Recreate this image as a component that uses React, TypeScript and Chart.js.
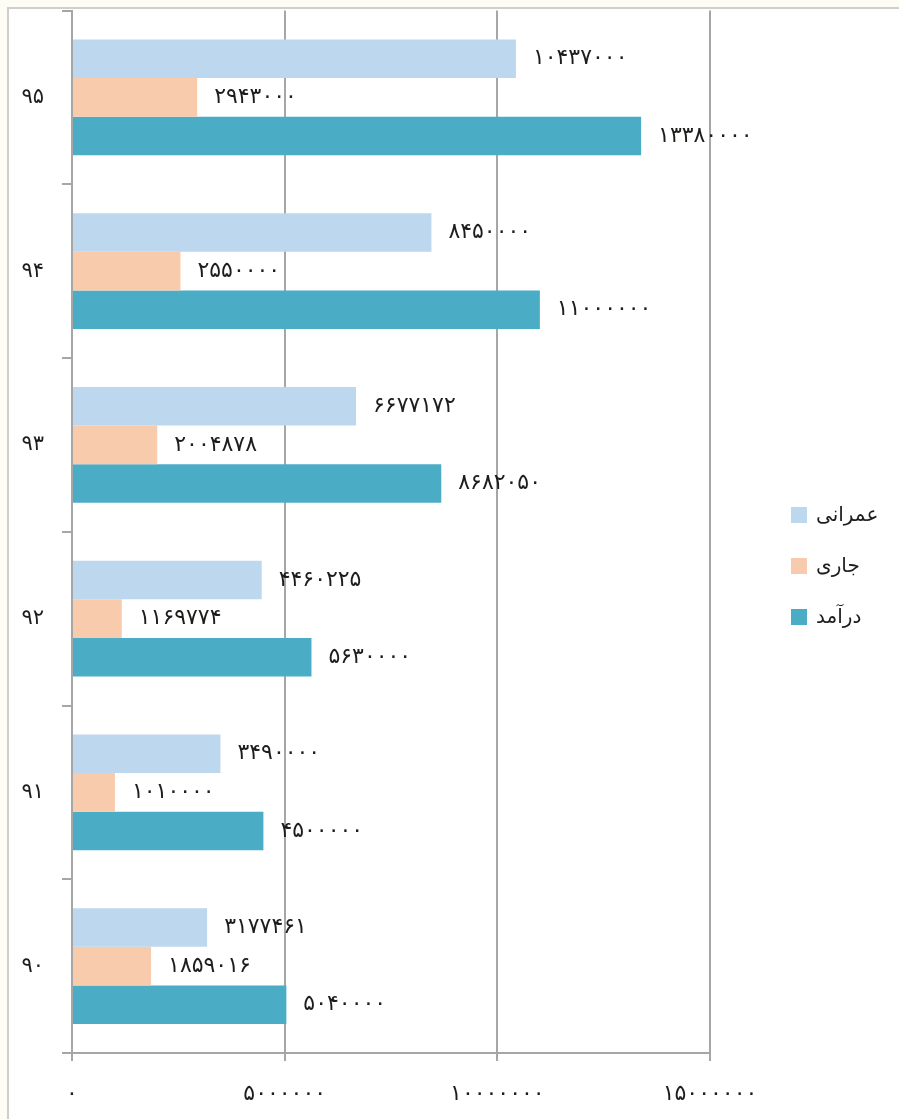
import React, { useEffect, useRef } from "react";
import { Chart, registerables } from "chart.js";

Chart.register(...registerables);

const categories = ["۹۵", "۹۴", "۹۳", "۹۲", "۹۱", "۹۰"];
const omraniValues = [10437000, 8450000, 6677172, 4460225, 3490000, 3177461];
const jariValues = [2943000, 2550000, 2004878, 1169774, 1010000, 1859016];
const daramadValues = [13380000, 11000000, 8682050, 5630000, 4500000, 5040000];
const seriesNames = ["عمرانی", "جاری", "درآمد"];
const seriesColors = ["#BDD7EE", "#F8CBAD", "#4BACC6"];
const xTickValues = [0, 5000000, 10000000, 15000000];

const PERSIAN = "۰۱۲۳۴۵۶۷۸۹";
const toPersian = (n: number | string) =>
  String(n).replace(/\d/g, (d) => PERSIAN[+d]);

const FONT = "'DejaVu Sans', 'Noto Sans', sans-serif";
const TEXT = "#1d1d1b";
const GRID = "#a6a6a6";

const labelsPlugin = {
  id: "valueLabels",
  afterDatasetsDraw(chart: any) {
    const ctx = chart.ctx;
    ctx.save();
    ctx.font = `22px ${FONT}`;
    ctx.fillStyle = TEXT;
    ctx.textAlign = "left";
    ctx.textBaseline = "middle";
    chart.data.datasets.forEach((ds: any, di: number) => {
      const meta = chart.getDatasetMeta(di);
      meta.data.forEach((el: any, i: number) => {
        ctx.fillText(toPersian(ds.data[i]), el.x + 17, el.y);
      });
    });
    ctx.restore();
  },
};

const legendPlugin = {
  id: "sideLegend",
  afterDraw(chart: any) {
    const ctx = chart.ctx;
    const area = chart.chartArea;
    const x = area.right + 81;
    const cy = chart.height / 2 + 2;
    const gap = 51;
    ctx.save();
    ctx.font = `20px ${FONT}`;
    ctx.textAlign = "left";
    ctx.textBaseline = "middle";
    chart.data.datasets.forEach((ds: any, i: number) => {
      const y = cy + (i - 1) * gap;
      ctx.fillStyle = ds.backgroundColor;
      ctx.fillRect(x, y - 8, 16, 16);
      ctx.fillStyle = TEXT;
      ctx.fillText(ds.label, x + 25, y + 1);
    });
    ctx.restore();
  },
};

export default function App() {
  const ref = useRef<HTMLCanvasElement>(null);

  useEffect(() => {
    document.documentElement.style.overflow = "hidden";
    const canvas = ref.current;
    if (!canvas) return;
    const values = [omraniValues, jariValues, daramadValues];
    const chart = new Chart(canvas, {
      type: "bar",
      data: {
        labels: categories,
        datasets: seriesNames.map((name, i) => ({
          label: name,
          data: values[i],
          backgroundColor: seriesColors[i],
          borderWidth: 0,
          categoryPercentage: 0.667,
          barPercentage: 1,
        })),
      },
      options: {
        indexAxis: "y",
        responsive: false,
        animation: false,
        devicePixelRatio: 1,
        layout: { padding: { top: 1.5, right: 189, left: 0, bottom: 0 } },
        plugins: {
          legend: { display: false },
          tooltip: { enabled: false },
        },
        scales: {
          x: {
            min: 0,
            max: 15000000,
            afterFit: (scale: any) => {
              scale.height = 66;
              scale.paddingLeft = 0;
              scale.paddingRight = 0;
            },
            afterBuildTicks: (scale: any) => {
              scale.ticks = xTickValues.map((v) => ({ value: v }));
            },
            ticks: {
              font: { family: FONT, size: 22 },
              color: TEXT,
              padding: 20,
              maxRotation: 0,
              callback: (v: any) => toPersian(v),
            },
            grid: {
              color: GRID,
              lineWidth: 2,
              drawOnChartArea: true,
              drawTicks: true,
              tickLength: 8,
            },
            border: { display: true, color: GRID, width: 2 },
          },
          y: {
            afterFit: (scale: any) => {
              scale.width = 63;
              scale.paddingTop = 0;
              scale.paddingBottom = 0;
            },
            ticks: {
              font: { family: FONT, size: 21 },
              color: TEXT,
              padding: 18,
            },
            grid: {
              offset: true,
              color: GRID,
              lineWidth: 2,
              drawOnChartArea: false,
              drawTicks: true,
              tickLength: 10,
            },
            border: { display: true, color: GRID, width: 2 },
          },
        },
      },
      plugins: [labelsPlugin, legendPlugin],
    });
    return () => chart.destroy();
  }, []);

  return (
    <div
      style={{
        position: "fixed",
        left: 0,
        top: 0,
        width: 899,
        height: 1119,
        boxSizing: "border-box",
        background: "#FDFDF5",
        paddingLeft: 7,
        paddingTop: 7,
        overflow: "hidden",
        zIndex: 10,
      }}
    >
      <div
        style={{
          width: 892,
          height: 1112,
          boxSizing: "border-box",
          background: "#ffffff",
          borderTop: "2px solid #cfcfcf",
          borderLeft: "2px solid #cfcfcf",
        }}
      >
        <canvas ref={ref} width={890} height={1110} style={{ display: "block" }} />
      </div>
    </div>
  );
}
